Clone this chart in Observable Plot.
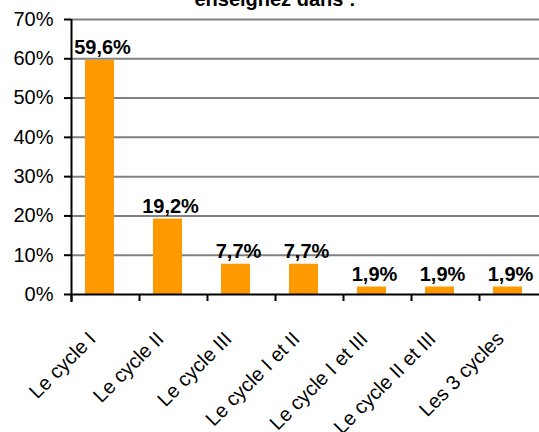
<!DOCTYPE html>
<html>
<head>
<meta charset="utf-8">
<script src="https://cdn.jsdelivr.net/npm/d3@7"></script>
<script src="https://cdn.jsdelivr.net/npm/@observablehq/plot@0.6"></script>
<style>
  html, body { margin: 0; padding: 0; background: white; overflow: hidden; }
  #wrap { position: relative; width: 539px; height: 432px; overflow: hidden; }
  #title { position: absolute; top: -11px; left: 275px; transform: translateX(-50%);
    font: bold 20px "Liberation Sans", Arial, sans-serif; line-height: 20px; white-space: nowrap; color: #000; }
</style>
</head>
<body>
<div id="wrap">
  <div id="chart"></div>
  <div id="title">enseignez dans :</div>
</div>
<script>
const categories = ["Le cycle I", "Le cycle II", "Le cycle III", "Le cycle I et II", "Le cycle I et III", "Le cycle II et III", "Les 3 cycles"];
const values = [59.6, 19.2, 7.7, 7.7, 1.9, 1.9, 1.9];
const yTicks = [0, 10, 20, 30, 40, 50, 60, 70];

const data = categories.map((c, i) => ({cat: c, value: values[i], label: values[i].toFixed(1).replace(".", ",") + "%"}));
const font = "'Liberation Sans', Arial, sans-serif";
const band = (547 - 71) / categories.length;

const chart = Plot.plot({
  width: 539,
  height: 432,
  marginTop: 19,
  marginBottom: 138,
  marginLeft: 71,
  marginRight: 0,
  style: {fontFamily: font, background: "white", color: "black"},
  x: {domain: categories, range: [71, 547], padding: 0, axis: null},
  y: {domain: [0, 70], axis: null},
  marks: [
    Plot.ruleY(yTicks.slice(1), {stroke: "#808080", strokeWidth: 2}),
    Plot.barY(data, {x: "cat", y: "value", fill: "#ff9900", insetLeft: 14, insetRight: 25}),
    Plot.ruleY([0], {stroke: "black", strokeWidth: 2}),
    Plot.ruleX([categories[0]], {dx: -band / 2, y1: 70, y2: 0, insetBottom: -8, stroke: "black", strokeWidth: 2}),
    Plot.ruleX(categories, {dx: -band / 2, y1: 0, y2: 0, insetBottom: -7, stroke: "black", strokeWidth: 2}),
    Plot.axisY({ticks: yTicks, tickFormat: d => d + "%", tickSize: 7, tickPadding: 11, fontSize: 20, stroke: "black", strokeWidth: 2, fill: "black", label: null}),
    Plot.axisX({tickSize: 0, tickRotate: -45, tickPadding: 41, dx: -13, fontSize: 20, fill: "black", label: null}),
    Plot.text(data, {x: "cat", y: "value", text: "label", dx: -3, dy: -6, lineAnchor: "bottom", fontSize: 20, fontWeight: "bold", fill: "black"})
  ]
});
document.getElementById("chart").appendChild(chart);
</script>
</body>
</html>
